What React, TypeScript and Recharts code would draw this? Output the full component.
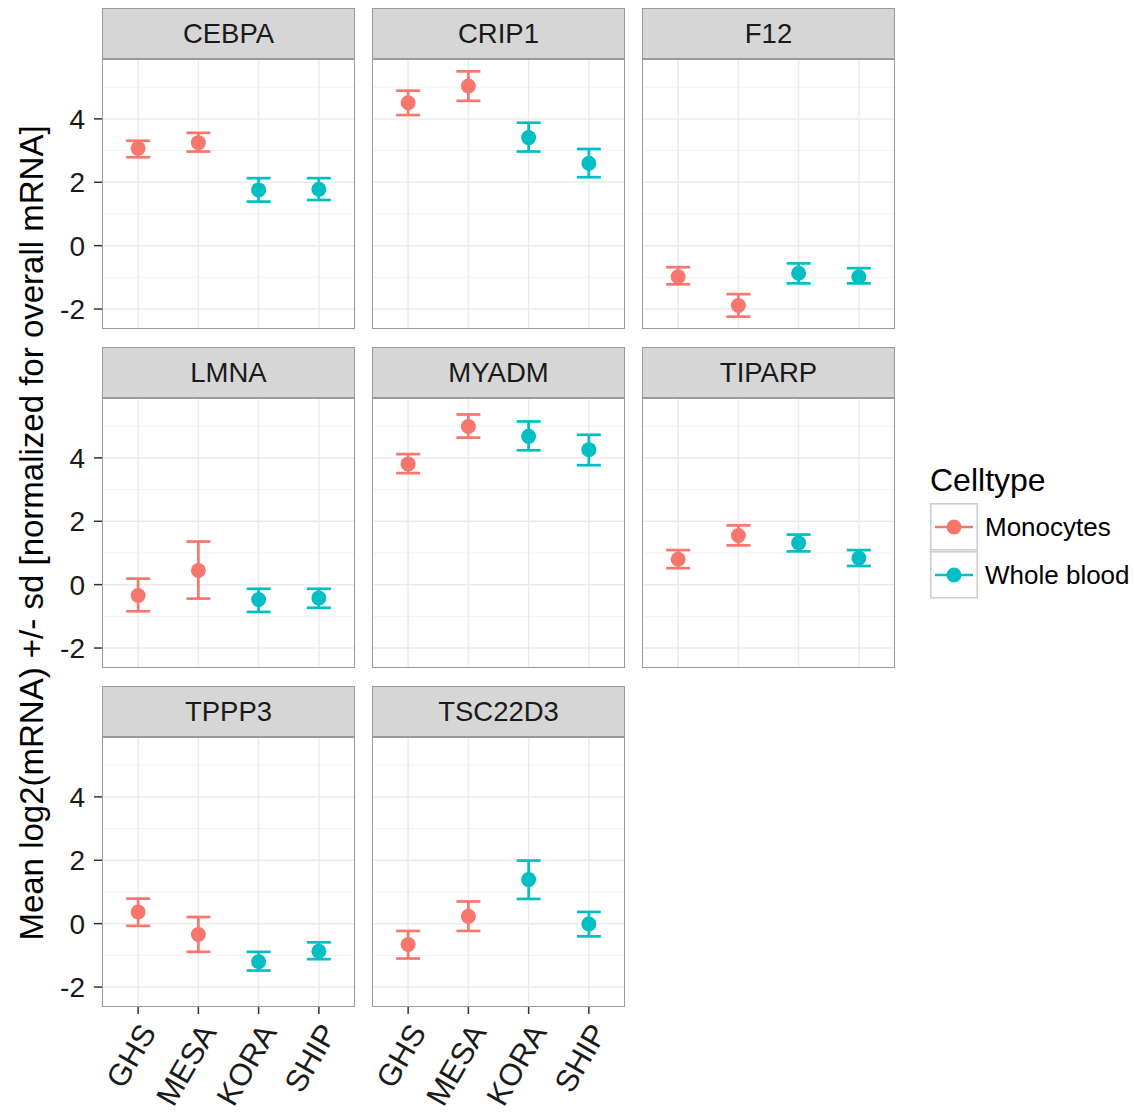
import React from "react";
import { ScatterChart, Scatter, XAxis, YAxis, ErrorBar, ReferenceLine } from "recharts";

const studies = ["GHS", "MESA", "KORA", "SHIP"];
const celltypes = ["Monocytes", "Whole blood"];
// which celltype each study belongs to (index into celltypes)
const studyCelltype = [0, 0, 1, 1];
const genes = ["CEBPA", "CRIP1", "F12", "LMNA", "MYADM", "TIPARP", "TPPP3", "TSC22D3"];

const cebpaMean = [3.07, 3.25, 1.76, 1.78];
const cebpaLow = [2.79, 2.97, 1.39, 1.44];
const cebpaHigh = [3.31, 3.56, 2.13, 2.13];

const crip1Mean = [4.51, 5.04, 3.41, 2.6];
const crip1Low = [4.12, 4.57, 2.97, 2.16];
const crip1High = [4.89, 5.5, 3.88, 3.05];

const f12Mean = [-0.98, -1.89, -0.87, -0.98];
const f12Low = [-1.22, -2.24, -1.19, -1.19];
const f12High = [-0.68, -1.53, -0.56, -0.71];

const lmnaMean = [-0.34, 0.45, -0.47, -0.42];
const lmnaLow = [-0.84, -0.44, -0.86, -0.73];
const lmnaHigh = [0.19, 1.36, -0.13, -0.13];

const myadmMean = [3.81, 4.99, 4.68, 4.26];
const myadmLow = [3.52, 4.64, 4.24, 3.77];
const myadmHigh = [4.12, 5.37, 5.15, 4.73];

const tiparpMean = [0.8, 1.55, 1.32, 0.84];
const tiparpLow = [0.52, 1.24, 1.05, 0.59];
const tiparpHigh = [1.09, 1.87, 1.58, 1.09];

const tppp3Mean = [0.37, -0.34, -1.2, -0.87];
const tppp3Low = [-0.07, -0.89, -1.48, -1.12];
const tppp3High = [0.79, 0.21, -0.89, -0.59];

const tsc22d3Mean = [-0.66, 0.23, 1.39, -0.01];
const tsc22d3Low = [-1.1, -0.23, 0.78, -0.4];
const tsc22d3High = [-0.23, 0.7, 1.99, 0.37];

const panelMeans = [cebpaMean, crip1Mean, f12Mean, lmnaMean, myadmMean, tiparpMean, tppp3Mean, tsc22d3Mean];
const panelLows = [cebpaLow, crip1Low, f12Low, lmnaLow, myadmLow, tiparpLow, tppp3Low, tsc22d3Low];
const panelHighs = [cebpaHigh, crip1High, f12High, lmnaHigh, myadmHigh, tiparpHigh, tppp3High, tsc22d3High];

const yTicks = [-2, 0, 2, 4];
const yMinorTicks = [-1, 1, 3, 5];
const xTicks = [1, 2, 3, 4];

const FONT = '"Liberation Sans", Arial, Helvetica, sans-serif';
const colors = ["#F8766D", "#00BFC4"];
const colLeft = [102, 372, 642];
const rowTop = [59, 398, 737];
const PW = 253;
const PH = 270;
const STRIP = 51;
const Y_DOMAIN: [number, number] = [-2.63, 5.89];

const XTick = (props: any) => {
  const { x, y, payload } = props;
  const ax = x + 19;
  const ay = y + 18;
  return (
    <text
      x={ax}
      y={ay}
      transform={`rotate(-60 ${ax} ${ay})`}
      textAnchor="end"
      fontSize={31}
      fontFamily={FONT}
      fill="#1a1a1a"
    >
      {studies[payload.value - 1]}
    </text>
  );
};

function Panel({ idx }: { idx: number }) {
  const col = idx % 3;
  const row = Math.floor(idx / 3);
  const showY = col === 0;
  const showX = row === 2;
  // bottom panels get left room too so rotated labels are not clipped
  const yw = showY || showX ? 50 : 0;
  const xh = showX ? 115 : 0;
  const mean = panelMeans[idx];
  const low = panelLows[idx];
  const high = panelHighs[idx];

  const rows = studies.map((s, i) => ({
    x: i + 1,
    y: mean[i],
    err: [mean[i] - low[i], high[i] - mean[i]],
    type: studyCelltype[i],
  }));

  return (
    <>
      <div
        style={{
          position: "absolute",
          left: colLeft[col],
          top: rowTop[row] - STRIP,
          width: PW,
          height: STRIP,
          boxSizing: "border-box",
          background: "#d6d6d6",
          border: "1.5px solid #9a9a9a",
          display: "flex",
          alignItems: "center",
          justifyContent: "center",
          fontSize: 27.5,
          color: "#1a1a1a",
        }}
      >
        {genes[idx]}
      </div>
      <div style={{ position: "absolute", left: colLeft[col] - yw, top: rowTop[row] }}>
        <ScatterChart width={PW + yw} height={PH + xh} margin={{ top: 0, right: 0, bottom: 0, left: 0 }}>
          {yMinorTicks.map((t) => (
            <ReferenceLine key={`mn${t}`} y={t} stroke="#f3f3f3" strokeWidth={1} />
          ))}
          {yTicks.map((t) => (
            <ReferenceLine key={`mj${t}`} y={t} stroke="#ebebeb" strokeWidth={1.5} />
          ))}
          {xTicks.map((t) => (
            <ReferenceLine key={`vx${t}`} x={t} stroke="#ebebeb" strokeWidth={1.5} />
          ))}
          <XAxis
            type="number"
            dataKey="x"
            domain={[0.4, 4.6]}
            ticks={xTicks}
            height={xh}
            axisLine={false}
            tick={showX ? <XTick /> : false}
            tickLine={showX ? { stroke: "#333", strokeWidth: 1.5 } : false}
            tickSize={7}
            tickMargin={0}
            interval={0}
          />
          <YAxis
            type="number"
            dataKey="y"
            domain={Y_DOMAIN}
            ticks={yTicks}
            width={yw}
            axisLine={false}
            tick={showY ? { fontSize: 28, fill: "#1a1a1a", fontFamily: FONT } : false}
            tickLine={showY ? { stroke: "#333", strokeWidth: 1.5 } : false}
            tickSize={8}
            tickMargin={9}
            interval={0}
          />
          {celltypes.map((c, ci) => (
            <Scatter
              key={c}
              name={c}
              data={rows.filter((r) => r.type === ci)}
              fill={colors[ci]}
              isAnimationActive={false}
              shape={(p: any) => <circle cx={p.cx} cy={p.cy} r={7.5} fill={colors[ci]} />}
            >
              <ErrorBar dataKey="err" direction="y" width={12} stroke={colors[ci]} strokeWidth={2.7} />
            </Scatter>
          ))}
        </ScatterChart>
      </div>
      <div
        style={{
          position: "absolute",
          left: colLeft[col],
          top: rowTop[row],
          width: PW,
          height: PH,
          boxSizing: "border-box",
          border: "1.5px solid #9a9a9a",
          pointerEvents: "none",
        }}
      />
    </>
  );
}

function Legend() {
  const keyTop = [503, 550.5];
  return (
    <>
      <div style={{ position: "absolute", left: 930, top: 462, fontSize: 32, color: "#000" }}>Celltype</div>
      {celltypes.map((c, i) => (
        <React.Fragment key={c}>
          <svg
            style={{ position: "absolute", left: 930, top: keyTop[i] }}
            width={48}
            height={48}
          >
            <rect x={0.75} y={0.75} width={46.5} height={46} fill="#fff" stroke="#cccccc" strokeWidth={1.5} />
            <line x1={5} x2={43} y1={24} y2={24} stroke={colors[i]} strokeWidth={2.5} />
            <circle cx={24} cy={24} r={7.5} fill={colors[i]} />
          </svg>
          <div style={{ position: "absolute", left: 985, top: keyTop[i] + 9, fontSize: 26, color: "#000" }}>{c}</div>
        </React.Fragment>
      ))}
    </>
  );
}

export default function App() {
  return (
    <div
      style={{
        position: "absolute",
        left: 0,
        top: 0,
        width: 1135,
        height: 1117,
        background: "#fff",
        fontFamily: FONT,
        overflow: "hidden",
      }}
    >
      <svg style={{ position: "absolute", left: 0, top: 0 }} width={60} height={1117}>
        <text
          x={43}
          y={533}
          transform="rotate(-90 43 533)"
          textAnchor="middle"
          fontSize={33}
          fontFamily={FONT}
          fill="#000"
        >
          Mean log2(mRNA) +/- sd [normalized for overall mRNA]
        </text>
      </svg>
      {genes.map((g, i) => (
        <Panel key={g} idx={i} />
      ))}
      <Legend />
    </div>
  );
}
